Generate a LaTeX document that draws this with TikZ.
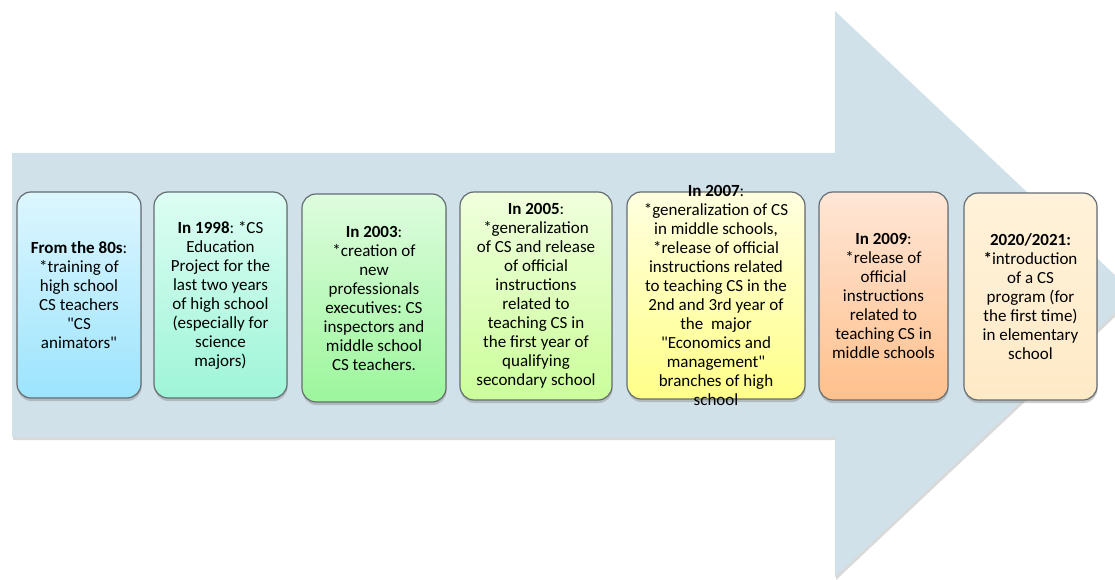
\documentclass[tikz,border=0pt]{standalone}
\usepackage{fontspec}
\setmainfont{Carlito}
\usepackage{xcolor}
\usetikzlibrary{shadows}
\definecolor{arrowblue}{HTML}{D0E1E9}
\definecolor{boxline}{HTML}{656D72}
\definecolor{topA}{HTML}{DDF6FE}\definecolor{botA}{HTML}{9CE4FD}
\definecolor{topB}{HTML}{DDFDF3}\definecolor{botB}{HTML}{9EF5D8}
\definecolor{topC}{HTML}{DEFCDE}\definecolor{botC}{HTML}{9CF69C}
\definecolor{topD}{HTML}{F0FFDD}\definecolor{botD}{HTML}{CBFE9A}
\definecolor{topE}{HTML}{FFFFE0}\definecolor{botE}{HTML}{FFFF88}
\definecolor{topF}{HTML}{FFE6D6}\definecolor{botF}{HTML}{FFC08C}
\definecolor{topG}{HTML}{FFF2DA}\definecolor{botG}{HTML}{FFEAC6}
\tikzset{ event_box/.style = {rectangle, rounded corners=14pt, draw=boxline, line width=1.2pt,
    drop shadow={shadow xshift=0.5pt, shadow yshift=-3pt, opacity=0.4}} }
\tikzset{ event_text/.style = {align=center, inner sep=0pt, font=\fontsize{17}{19}\selectfont} }
\tikzset{ time_arrow/.style = {fill=arrowblue, drop shadow={shadow xshift=1pt, shadow yshift=-3pt, opacity=0.3}} }
\frenchspacing
\newcommand{\qt}{\textquotedbl}

\begin{document}
\begin{tikzpicture}[x=1pt,y=-1pt]
            \useasboundingbox (0,0) rectangle (1115,580);
            \clip (0,0) rectangle (1115,580);
            % the big arrow
            \fill[style=time_arrow] (12,153) -- (835,153) -- (835,11) -- (1135,294)
                -- (835,577) -- (835,437) -- (12,437) -- cycle;
            % boxes
            \node [style=event_box, minimum width=124pt, minimum height=206pt,
                top color=topA, bottom color=botA] (0) at (79,295) {};
            \node [style=event_box, minimum width=133pt, minimum height=206pt,
                top color=topB, bottom color=botB] (1) at (220.5,295) {};
            \node [style=event_box, minimum width=144pt, minimum height=208pt,
                top color=topC, bottom color=botC] (2) at (374,298) {};
            \node [style=event_box, minimum width=152pt, minimum height=208pt,
                top color=topD, bottom color=botD] (3) at (536,296) {};
            \node [style=event_box, minimum width=178pt, minimum height=207pt,
                top color=topE, bottom color=botE] (4) at (716,295.5) {};
            \node [style=event_box, minimum width=129pt, minimum height=208pt,
                top color=topF, bottom color=botF] (5) at (883.5,296) {};
            \node [style=event_box, minimum width=133pt, minimum height=207pt,
                top color=topG, bottom color=botG] (6) at (1030.5,296.5) {};
            % texts
            \node [style=event_text] (t0) at (0) {\textbf{From the 80s}:\\*training of\\high school\\CS teachers\\\qt CS\\animators\qt};
            \node [style=event_text] (t1) at (1) {\textbf{In 1998}: *CS\\Education\\Project for the\\last two years\\of high school\\(especially for\\science\\majors)};
            \node [style=event_text] (t2) at (2) {\textbf{In 2003}:\\*creation of\\new\\professionals\\executives: CS\\inspectors and\\middle school\\CS teachers.};
            \node [style=event_text] (t3) at (3) {\textbf{In 2005}:\\*generalization\\of CS and release\\of official\\instructions\\related to\\teaching CS in\\the first year of\\qualifying\\secondary school};
            \node [style=event_text] (t4) at (4) {\textbf{In 2007}:\\*generalization of CS\\in middle schools,\\*release of official\\instructions related\\to teaching CS in the\\2nd and 3rd year of\\the\ \ major\\\qt Economics and\\management\qt\\branches of high\\school};
            \node [style=event_text] (t5) at (5) {\textbf{In 2009}:\\*release of\\official\\instructions\\related to\\teaching CS in\\middle schools};
            \node [style=event_text] (t6) at (6) {\textbf{2020/2021:}\\\textbf{*}introduction\\of a CS\\program (for\\the first time)\\in elementary\\school};
\end{tikzpicture}
\end{document}
